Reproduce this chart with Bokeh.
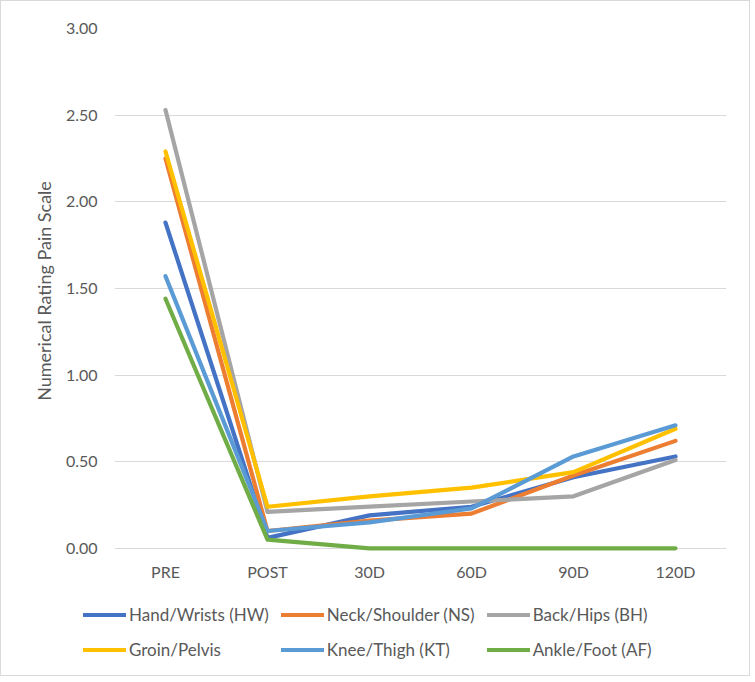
from bokeh.plotting import figure
from bokeh.layouts import column, row
from bokeh.models import Range1d, FactorRange, FixedTicker, NumeralTickFormatter, Legend, LegendItem
from bokeh.embed import file_html
from bokeh.resources import INLINE

categories = ["PRE", "POST", "30D", "60D", "90D", "120D"]
hand_wrists = [1.88, 0.06, 0.19, 0.24, 0.41, 0.53]
neck_shoulder = [2.25, 0.10, 0.16, 0.20, 0.42, 0.62]
back_hips = [2.53, 0.21, 0.24, 0.27, 0.30, 0.51]
groin_pelvis = [2.29, 0.24, 0.30, 0.35, 0.44, 0.69]
knee_thigh = [1.57, 0.10, 0.15, 0.23, 0.53, 0.71]
ankle_foot = [1.44, 0.05, 0.00, 0.00, 0.00, 0.00]
y_ticks = [0.0, 0.5, 1.0, 1.5, 2.0, 2.5, 3.0]

series = [
    ("Hand/Wrists (HW)", hand_wrists, "#4472C4"),
    ("Neck/Shoulder (NS)", neck_shoulder, "#ED7D31"),
    ("Back/Hips (BH)", back_hips, "#A5A5A5"),
    ("Groin/Pelvis", groin_pelvis, "#FFC000"),
    ("Knee/Thigh (KT)", knee_thigh, "#5B9BD5"),
    ("Ankle/Foot (AF)", ankle_foot, "#70AD47"),
]

FONT = "Lato"
TXT = "#595959"

p = figure(x_range=FactorRange(factors=categories), y_range=Range1d(-0.03, 3.0),
           frame_width=612, frame_height=525, output_backend="svg", toolbar_location=None,
           min_border_left=113, min_border_right=23, min_border_top=27, min_border_bottom=40)
p.outline_line_color = None

for name, vals, col in series:
    p.line(categories, vals, line_color=col, line_width=4.2, line_cap="round", line_join="round")

p.yaxis.ticker = FixedTicker(ticks=y_ticks)
p.yaxis.formatter = NumeralTickFormatter(format="0.00")
p.ygrid.ticker = FixedTicker(ticks=y_ticks)
p.ygrid.grid_line_color = "#d9d9d9"
p.ygrid.grid_line_width = 1
p.xgrid.grid_line_color = None

for ax in (p.xaxis[0], p.yaxis[0]):
    ax.axis_line_color = None
    ax.major_tick_line_color = None
    ax.minor_tick_line_color = None
    ax.major_tick_out = 0
    ax.major_tick_in = 0
    ax.minor_tick_out = 0
    ax.major_label_text_font = FONT
    ax.major_label_text_font_size = "16px"
    ax.major_label_text_color = TXT

p.yaxis.major_label_standoff = 17
p.xaxis.major_label_standoff = 8
p.yaxis.axis_label = "Numerical Rating Pain Scale"
p.yaxis.axis_label_text_font = FONT
p.yaxis.axis_label_text_font_size = "18px"
p.yaxis.axis_label_text_font_style = "normal"
p.yaxis.axis_label_text_color = TXT
p.yaxis.axis_label_standoff = 8

# legend panel: its own small figure below the chart; the sample lines are empty proxies
nan = float("nan")
lp = figure(width=748, height=82, x_range=Range1d(0, 1), y_range=Range1d(0, 1),
            output_backend="svg", toolbar_location=None,
            x_axis_location=None, y_axis_location=None,
            min_border_left=0, min_border_right=0, min_border_top=0, min_border_bottom=0)
lp.outline_line_color = None
lp.xgrid.grid_line_color = None
lp.ygrid.grid_line_color = None
items = []
for name, vals, col in series:
    r = lp.line(x=[nan, nan], y=[nan, nan], line_color=col, line_width=4.2, line_cap="round")
    items.append(LegendItem(label=name, renderers=[r]))

legend = Legend(items=items, location=(82, 14), orientation="horizontal", ncols=3,
                glyph_width=43, glyph_height=23, label_height=23, label_standoff=3,
                spacing=12, padding=0, margin=0,
                label_text_font=FONT, label_text_font_size="17px", label_text_color=TXT,
                border_line_color=None, background_fill_alpha=0)
lp.add_layout(legend, "center")

layout = column(p, row(lp), spacing=0)
layout.styles = {"border": "1px solid #d9d9d9"}

open("out.html", "w").write(file_html(layout, INLINE))
